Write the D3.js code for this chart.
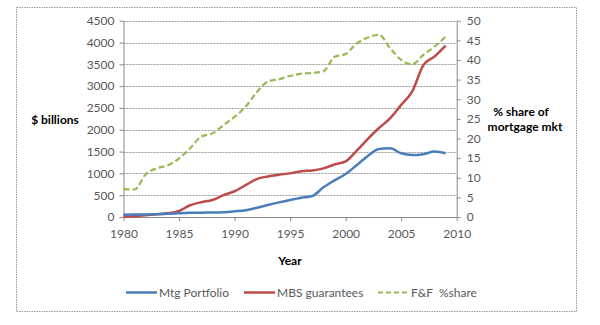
<!DOCTYPE html>
<html><head><meta charset="utf-8">
<script src="https://cdn.jsdelivr.net/npm/d3@7"></script>
<style>body{margin:0;background:#fff}svg{display:block}text{font-family:Lato,"Open Sans",sans-serif;white-space:pre}</style>
</head><body><svg id="c" width="600" height="325"></svg>
<script>
const years = d3.range(1980, 2010);
const mtgPortfolio = [50, 55, 60, 65, 72, 85, 95, 100, 102, 110, 130, 155, 210, 275, 335, 390, 440, 480, 680, 840, 985, 1190, 1400, 1560, 1575, 1460, 1420, 1440, 1500, 1460];
const mbsGuarantees = [10, 20, 40, 65, 85, 140, 270, 340, 390, 500, 590, 730, 870, 930, 970, 1000, 1050, 1065, 1115, 1205, 1275, 1520, 1790, 2040, 2260, 2570, 2880, 3480, 3680, 3930];
const ffShare = [7.1, 7.0, 10.9, 12.4, 13.2, 14.9, 17.5, 20.5, 21.3, 23.4, 25.5, 28.1, 31.8, 34.5, 35.1, 35.9, 36.5, 36.7, 37.1, 40.8, 41.5, 44.2, 45.7, 46.4, 43.0, 40.0, 38.9, 41.3, 43.4, 45.9];
const leftTicks = d3.range(0, 4501, 500);
const rightTicks = d3.range(0, 51, 5);
const xTicks = d3.range(1980, 2011, 5);
const seriesNames = ["Mtg Portfolio", "MBS guarantees", "F&F  %share"];

const svg = d3.select("#c");
const x = d3.scaleLinear().domain([1980, 2010]).range([123.5, 456.7]);
const yL = d3.scaleLinear().domain([0, 4500]).range([217, 20.7]);
const yR = d3.scaleLinear().domain([0, 50]).range([217, 20.7]);

// outer border
svg.append("rect").attr("x", 16.5).attr("y", 7.5).attr("width", 560).attr("height", 304)
  .attr("fill", "none").attr("stroke", "#999").attr("stroke-dasharray", "1.5,1");

// gridlines
svg.append("g").selectAll("line").data(leftTicks.filter(d => d > 0)).join("line")
  .attr("x1", x(1980)).attr("x2", x(2010))
  .attr("y1", d => Math.round(yL(d)) + 0.5).attr("y2", d => Math.round(yL(d)) + 0.5)
  .attr("stroke", "#9a9a9a").attr("stroke-dasharray", "2,1");

const axisStyle = g => {
  g.selectAll("path,line").attr("stroke", "#8a8a8a");
  g.selectAll("text").attr("fill", "#595959").style("font-size", "12px").style("font-family", "Lato,sans-serif");
};

svg.append("g").attr("transform", `translate(${x(1980)},0)`)
  .call(d3.axisLeft(yL).tickValues(leftTicks).tickSize(4).tickSizeOuter(0).tickPadding(5).tickFormat(d3.format("d")))
  .call(axisStyle);
svg.append("g").attr("transform", `translate(${x(2010)},0)`)
  .call(d3.axisRight(yR).tickValues(rightTicks).tickSize(4).tickSizeOuter(0).tickPadding(6).tickFormat(d3.format("d")))
  .call(axisStyle);
svg.append("g").attr("transform", `translate(0,${yL(0)})`)
  .call(d3.axisBottom(x).tickValues(xTicks).tickSize(4).tickSizeOuter(0).tickPadding(8).tickFormat(d3.format("d")))
  .call(axisStyle);

const lineL = d3.line().x((d, i) => x(years[i])).y(d => yL(d)).curve(d3.curveMonotoneX);
const lineR = d3.line().x((d, i) => x(years[i])).y(d => yR(d)).curve(d3.curveMonotoneX);

svg.append("path").datum(ffShare).attr("d", lineR).attr("fill", "none")
  .attr("stroke", "#98B954").attr("stroke-width", 2.2).attr("stroke-dasharray", "6,3");
svg.append("path").datum(mbsGuarantees).attr("d", lineL).attr("fill", "none")
  .attr("stroke", "#BE4B48").attr("stroke-width", 2.5);
svg.append("path").datum(mtgPortfolio).attr("d", lineL).attr("fill", "none")
  .attr("stroke", "#4A7EBB").attr("stroke-width", 2.5);

// axis titles
svg.append("text").attr("x", 55).attr("y", 124).attr("text-anchor", "middle")
  .style("font-size", "12px").style("font-weight", "bold").attr("fill", "#000").text("$ billions");
svg.append("text").attr("x", 521).attr("y", 116).attr("text-anchor", "middle")
  .style("font-size", "12px").style("font-weight", "bold").attr("fill", "#000").text("% share of");
svg.append("text").attr("x", 525).attr("y", 131).attr("text-anchor", "middle")
  .style("font-size", "12px").style("font-weight", "bold").attr("fill", "#000").text("mortgage mkt");
svg.append("text").attr("x", 290).attr("y", 265).attr("text-anchor", "middle")
  .style("font-size", "12px").style("font-weight", "bold").attr("fill", "#000").text("Year");

// legend
const legX = [126, 244, 378];
const legColors = ["#4A7EBB", "#BE4B48", "#98B954"];
const lg = svg.append("g");
seriesNames.forEach((n, i) => {
  lg.append("line").attr("x1", legX[i]).attr("x2", legX[i] + 31).attr("y1", 292.5).attr("y2", 292.5)
    .attr("stroke", legColors[i]).attr("stroke-width", i === 2 ? 2.2 : 2.5)
    .attr("stroke-dasharray", i === 2 ? "5,3" : null);
  lg.append("text").attr("x", legX[i] + 33).attr("y", 297).style("font-size", "12px")
    .attr("fill", "#595959").text(n);
});
</script></body></html>
